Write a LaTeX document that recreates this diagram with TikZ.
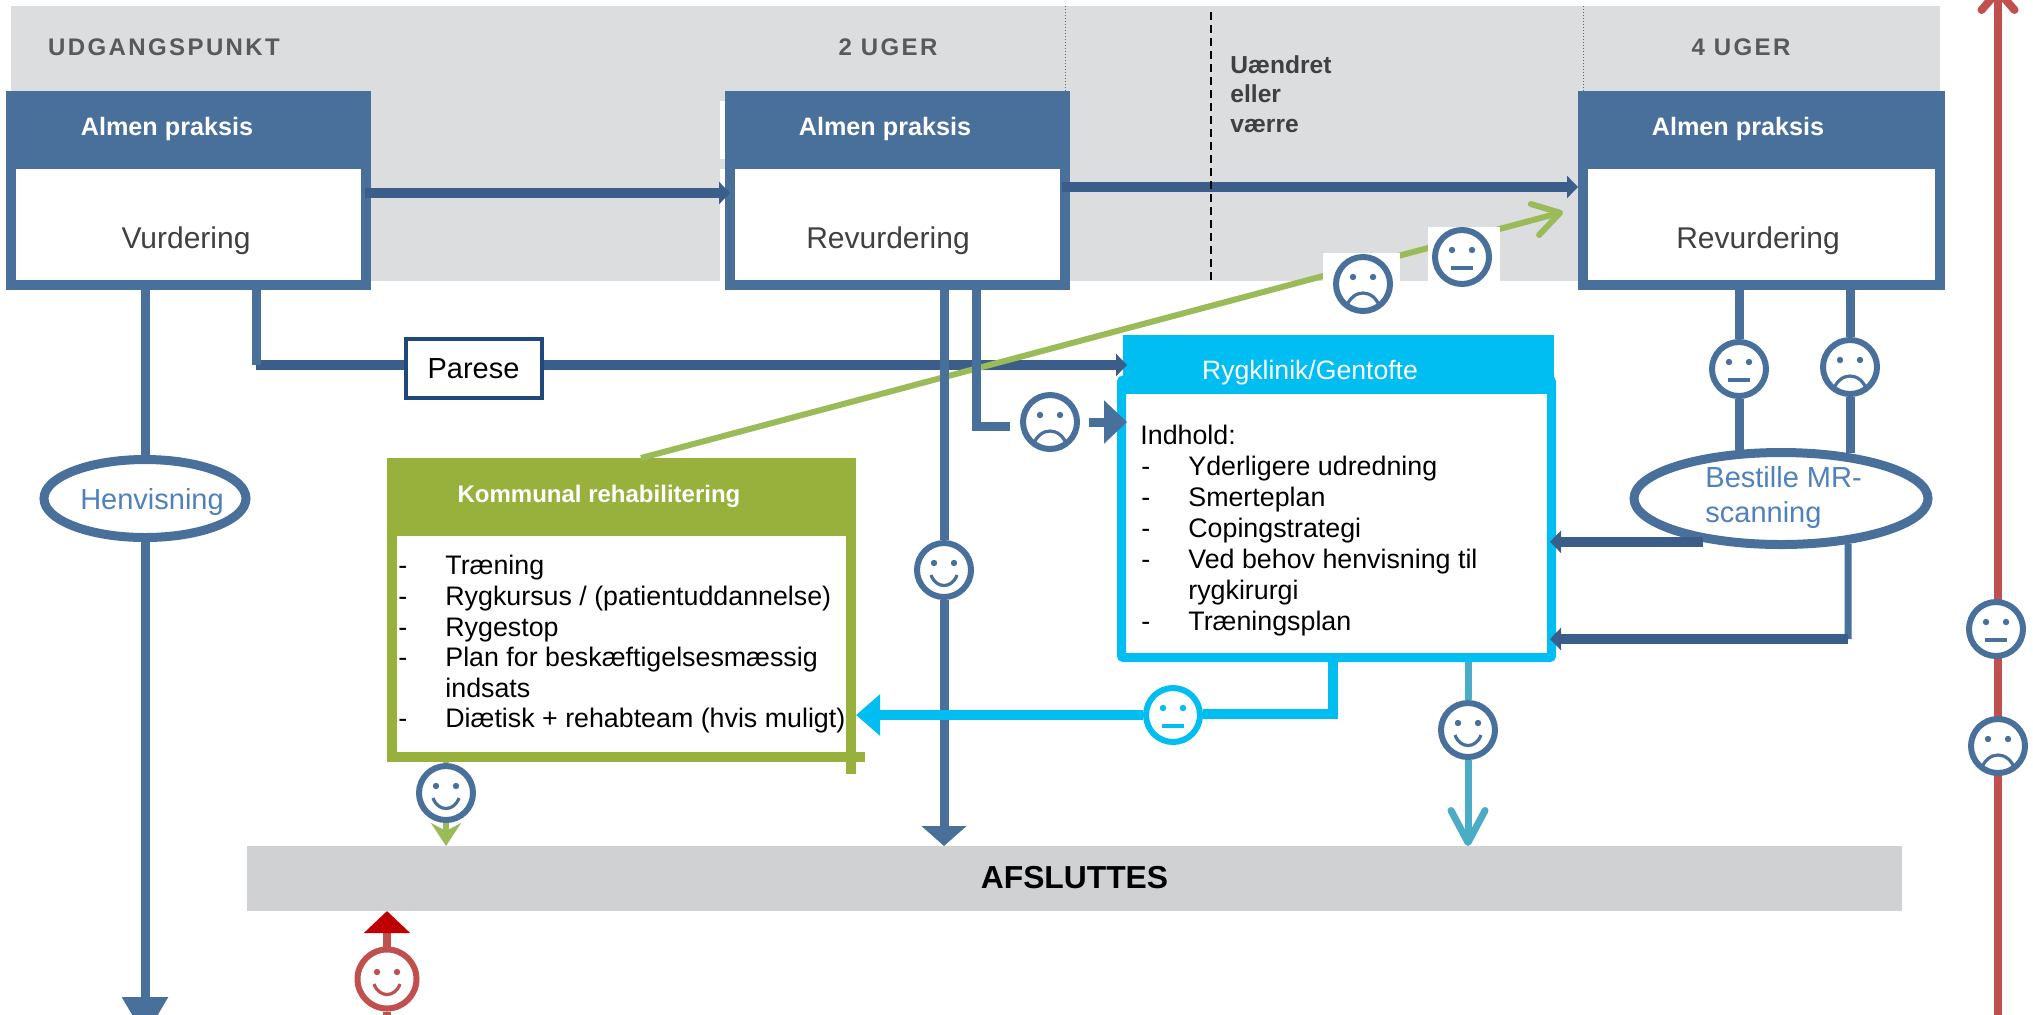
\documentclass[tikz,border=0pt]{standalone}
\usepackage{fontspec}
\setmainfont{Liberation Sans}
\usetikzlibrary{shapes.geometric,arrows.meta}
\definecolor{bandgrey}{HTML}{DCDDDF}
\definecolor{endgrey}{HTML}{D0D1D3}
\definecolor{boxblue}{HTML}{48709B}
\definecolor{flowblue}{HTML}{3A5D8A}
\definecolor{parblue}{HTML}{1F497D}
\definecolor{clinic}{HTML}{00BEF2}
\definecolor{komgreen}{HTML}{97B13C}
\definecolor{linegreen}{HTML}{9BBB59}
\definecolor{tealline}{HTML}{4BACC6}
\definecolor{redline}{HTML}{C0504D}
\definecolor{redtip}{HTML}{C00000}
\definecolor{textblue}{HTML}{4F81BD}
\newcommand{\dashitem}[1]{\makebox[23.5pt][l]{-}#1}
\tikzstyle{head} = [rectangle, inner sep=0pt, outer sep=0pt, minimum height=39pt, fill=#1]
\tikzstyle{body} = [rectangle, inner sep=0pt, minimum height=60.5pt, draw=boxblue, fill=white, line width=5pt]
\tikzstyle{headtext} = [inner sep=0pt, text=white, font=\fontsize{12.6}{15}\bfseries\selectfont]
\tikzstyle{bodytext} = [inner sep=0pt, text=black!75, font=\fontsize{15}{18}\selectfont]
\tikzstyle{weektext} = [inner sep=0pt, text=black!65, font=\fontsize{12}{14}\bfseries\addfontfeature{LetterSpace=10}]
\tikzstyle{listtext} = [inner sep=0pt, anchor=north west, align=left, font=\fontsize{13.4}{15.3}\selectfont]
\tikzstyle{oval} = [ellipse, inner sep=0pt, draw=boxblue, fill=white, line width=4.5pt]
\tikzstyle{ovaltext} = [inner sep=0pt, align=left, text=textblue, font=\fontsize{14.5}{17.5}\selectfont]
\tikzstyle{patch} = [rectangle, inner sep=0pt, outer sep=0pt, fill=white]
\tikzstyle{link} = [draw=boxblue, line width=4.5pt]
\tikzstyle{flow} = [draw=flowblue, line width=5pt]
\tikzstyle{flowtip} = [-{Triangle[length=5.5pt,width=11pt]}]
\tikzstyle{facebase} = [circle, draw=#1, fill=white, line width=3pt, minimum size=27pt, inner sep=0pt]
\tikzstyle{happyface} = [facebase=#1, path picture={
    \begin{scope}[shift={(path picture bounding box.center)}]
    \fill[#1] (-5pt,3.5pt) circle (1.6pt) (5pt,3.5pt) circle (1.6pt);
    \draw[#1,line width=1.6pt] (-6.5pt,-2.5pt) .. controls (-4pt,-9.5pt) and (4pt,-9.5pt) .. (6.5pt,-2.5pt);
    \end{scope}}]
\tikzstyle{flatface} = [facebase=#1, path picture={
    \begin{scope}[shift={(path picture bounding box.center)}]
    \fill[#1] (-5pt,3.5pt) circle (1.6pt) (5pt,3.5pt) circle (1.6pt);
    \draw[#1,line width=1.6pt] (-5.5pt,-5.5pt) -- (5.5pt,-5.5pt);
    \end{scope}}]
\tikzstyle{sadface} = [facebase=#1, path picture={
    \begin{scope}[shift={(path picture bounding box.center)}]
    \fill[#1] (-5pt,3.5pt) circle (1.6pt) (5pt,3.5pt) circle (1.6pt);
    \draw[#1,line width=1.6pt] (-8.5pt,-12pt) .. controls (-5.5pt,-2pt) and (5.5pt,-2pt) .. (8.5pt,-12pt);
    \end{scope}}]
\begin{document}
\begin{tikzpicture}[x=0.5pt,y=-0.5pt]
\useasboundingbox (0,0) rectangle (2033,1014);
\clip (0,0) rectangle (2033,1014);

\fill[bandgrey] (11,6) rectangle (1940,281);
\fill[white] (720,101) rectangle (725,159);
\fill[white] (720,169) rectangle (725,281);
\draw[black!60,densely dotted,line width=0.5pt] (1065,6) -- (1065,91);
\draw[black!60,densely dotted,line width=0.5pt] (1583,6) -- (1583,91);

\node[weektext] (startlbl) at (164,47) {UDGANGSPUNKT};
\node[weektext] (twolbl) at (888,47) {2 UGER};
\node[weektext] (fourlbl) at (1741,47) {4 UGER};
\node[inner sep=0pt, anchor=west, align=left, text=black!75, font=\fontsize{12.3}{14.75}\bfseries\selectfont] (worselbl) at (1230,94) {Uændret\\eller\\værre};

\node[body, minimum width=177.5pt] (vurd) at (188.5,224.5) {};
\node[head=boxblue, minimum width=182.5pt] (vurdhead) at (188.5,130) {};
\node[headtext] (vurdtop) at (167,129) {Almen praksis};
\node[bodytext] (vurdlbl) at (186,241) {Vurdering};

\node[body, minimum width=167.5pt] (revtwo) at (897.5,224.5) {};
\node[head=boxblue, minimum width=172.5pt] (revtwohead) at (897.5,130) {};
\node[headtext] (revtwotop) at (885,129) {Almen praksis};
\node[bodytext] (revtwolbl) at (888,241) {Revurdering};

\node[body, minimum width=178.5pt] (revfour) at (1761.5,224.5) {};
\node[head=boxblue, minimum width=183.5pt] (revfourhead) at (1761.5,130) {};
\node[headtext] (revfourtop) at (1738,129) {Almen praksis};
\node[bodytext] (revfourlbl) at (1758,241) {Revurdering};

\node[rectangle, inner sep=0pt, minimum width=215pt, minimum height=138.75pt, draw=clinic, fill=white, line width=4.5pt, rounded corners=1pt] (ryg) at (1336.5,518.75) {};
\node[head=clinic, minimum width=215.5pt, minimum height=29.5pt] (ryghead) at (1338.5,364.5) {};
\node[inner sep=0pt, text=white, font=\fontsize{13.3}{16}\selectfont] (rygtop) at (1310,373) {Rygklinik/Gentofte};
\node[listtext, font=\fontsize{13.4}{15.45}\selectfont] (ryglist) at (1141,425) {\hspace*{-0.5pt}Indhold:\\
  \dashitem{Yderligere udredning}\\
  \dashitem{Smerteplan}\\
  \dashitem{Copingstrategi}\\
  \dashitem{Ved behov henvisning til}\\
  \hspace*{23.5pt}rygkirurgi\\
  \dashitem{Træningsplan}};

\fill[komgreen] (851,752) rectangle (865,762);
\fill[komgreen] (846,762) rectangle (856,774);
\node[rectangle, inner sep=0pt, minimum width=229.5pt, minimum height=113.5pt, draw=komgreen, fill=white, line width=5pt] (kom) at (621.5,643.5) {};
\node[head=komgreen, minimum width=234.5pt] (komhead) at (621.5,497) {};
\node[inner sep=0pt, text=white, font=\fontsize{12}{15}\bfseries\selectfont] (komtop) at (599,496) {Kommunal rehabilitering};
\node[listtext] (komlist) at (398,555) {\dashitem{Træning}\\
  \dashitem{Rygkursus / (patientuddannelse)}\\
  \dashitem{Rygestop}\\
  \dashitem{Plan for beskæftigelsesmæssig}\\
  \hspace*{23.5pt}indsats\\
  \dashitem{Diætisk + rehabteam (hvis muligt)}};

\node[rectangle, inner sep=0pt, outer sep=0pt, minimum width=827.5pt, minimum height=32.5pt, fill=endgrey, font=\fontsize{15.9}{19}\bfseries\selectfont] (afs) at (1074.5,878.5) {\raisebox{1.5pt}{AFSLUTTES}};
\node[rectangle, inner sep=0pt, minimum width=68pt, minimum height=29.5pt, draw=parblue, fill=white, line width=2pt, font=\fontsize{14.5}{17}\selectfont] (parese) at (473.5,368.5) {Parese};
\node[oval, minimum width=101pt, minimum height=39pt] (henv) at (145,498.5) {};
\node[ovaltext] (henvlbl) at (152,502) {Henvisning};
\node[oval, minimum width=147pt, minimum height=46pt] (best) at (1781,498.5) {};
\node[ovaltext, anchor=west] (bestlbl) at (1705,497) {Bestille MR-\\scanning};

\coordinate (parturn) at (256,365);
\coordinate (komout) at (641,458);
\coordinate (revin) at (1563,212);
\coordinate (clinicturn) at (976,426);
\coordinate (mrturn) at (1848,639);
\coordinate (rygturn) at (1333,714);
\coordinate (henvend) at (145,1037);
\coordinate (redend) at (387,1020);
\coordinate (riskbot) at (1998,1020);
\coordinate (risktop) at (1998,-13);

\draw[flow,flowtip] ([xshift=-3pt]vurd.east |- 0,193) -- ([xshift=2.5pt]revtwo.west |- 0,193);
\draw[flow,flowtip] ([xshift=-4pt]revtwo.east |- 0,187) -- (revfour.west |- 0,187);
\draw[black,dashed,dash pattern=on 4pt off 2.5pt,line width=0.6pt] (1211,12) -- (1211,281);

\draw[flow] (parturn) -- (parese.west |- parturn);
\draw[flow,flowtip] (parese.east |- parturn) -- ([xshift=5pt]ryg.west |- parturn);
\draw[linegreen,line width=3pt,-{Straight Barb[round,length=13pt,width=16pt]}] (komout) -- (revin);
\draw[redline,line width=4pt,-{Straight Barb[round,length=9.5pt,width=16.5pt]}] (riskbot) -- (risktop);

%faces sitting on white squares
\node[patch, minimum width=39.5pt, minimum height=30.5pt] (clinicbox) at (1049.5,422) {};
\node[patch, minimum width=38.5pt, minimum height=31pt] (sadbox) at (1361.5,284) {};
\node[patch, minimum width=36pt, minimum height=27pt] (flatbox) at (1464,254) {};

\draw[link] (henv.north |- vurd.south) -- (henv.north);
\draw[link,-{Triangle[length=20pt,width=22pt]}] (henv.south) -- (henvend);
\draw[link] (parturn |- vurd.south) -- (parturn);
\draw[link] (clinicturn |- revtwo.south) -- (clinicturn) -- (clinicbox.west |- clinicturn);
\draw[link,-{Triangle[length=11.5pt,width=21pt]}] (clinicbox.east) -- ([xshift=5pt]ryg.west |- clinicbox);

\node[sadface=boxblue] (clinicsad) at (1050,422) {};
\node[sadface=boxblue] (topsad) at (1363,284) {};
\node[flatface=boxblue] (topflat) at (1462,257) {};
\node[happyface=boxblue] (twohappy) at (944,570) {};
\node[happyface=boxblue] (komhappy) at (446,793) {};
\node[flatface=clinic] (rygflat) at (1173,715) {};
\node[happyface=boxblue] (endhappy) at (1468,730) {};
\node[flatface=boxblue] (fourflat) at (1739,369) {};
\node[sadface=boxblue] (foursad) at (1850,367) {};
\node[flatface=boxblue] (riskflat) at (1996,629) {};
\node[sadface=boxblue] (risksad) at (1998,746) {};
\node[happyface=redline, minimum size=29.5pt] (redhappy) at (387,979) {};

\draw[link] (twohappy.north |- revtwo.south) -- (twohappy.north);
\draw[link,-{Triangle[length=10pt,width=22pt]}] (twohappy.south) -- (twohappy.south |- afs.north);

\draw[linegreen,line width=3pt] (komhappy.north |- kom.south) -- (komhappy.north);
\draw[linegreen,line width=3pt,-{Stealth[length=11.5pt,width=15pt,inset=4pt]}] (komhappy.south) -- (komhappy.south |- afs.north);

\draw[clinic,line width=5pt] (rygturn |- ryg.south) -- (rygturn) -- (rygflat.east |- rygturn);
\draw[clinic,line width=5pt,-{Triangle[length=12pt,width=20pt]}] (rygflat.west) -- (kom.east |- rygflat);

\draw[tealline,line width=3.5pt] (endhappy.north |- ryg.south) -- (endhappy.north);
\draw[tealline,line width=3.5pt,-{Straight Barb[round,length=16pt,width=17pt]}] (endhappy.south) -- (endhappy.south |- afs.north);

\draw[link] (fourflat.north |- revfour.south) -- (fourflat.north);
\draw[link] (fourflat.south) -- (fourflat.south |- best.131);
\draw[link] (foursad.north |- revfour.south) -- (foursad.north);
\draw[link] (foursad.south) -- (foursad.south |- best.34);
\draw[flow,flowtip] (best.-151) -- ([xshift=-3pt]ryg.east |- best.-151);
\draw[link,line width=3.5pt] (best.-34) -- (mrturn);
\draw[flow,flowtip] (mrturn) -- ([xshift=-3pt]ryg.east |- mrturn);

\draw[redline,line width=4pt] (redhappy.south) -- (redend);
\draw[redline,line width=4pt,-{Triangle[length=11pt,width=22.5pt,color=redtip]}] (redhappy.north) -- (redhappy.north |- afs.south);
\end{tikzpicture}
\end{document}
